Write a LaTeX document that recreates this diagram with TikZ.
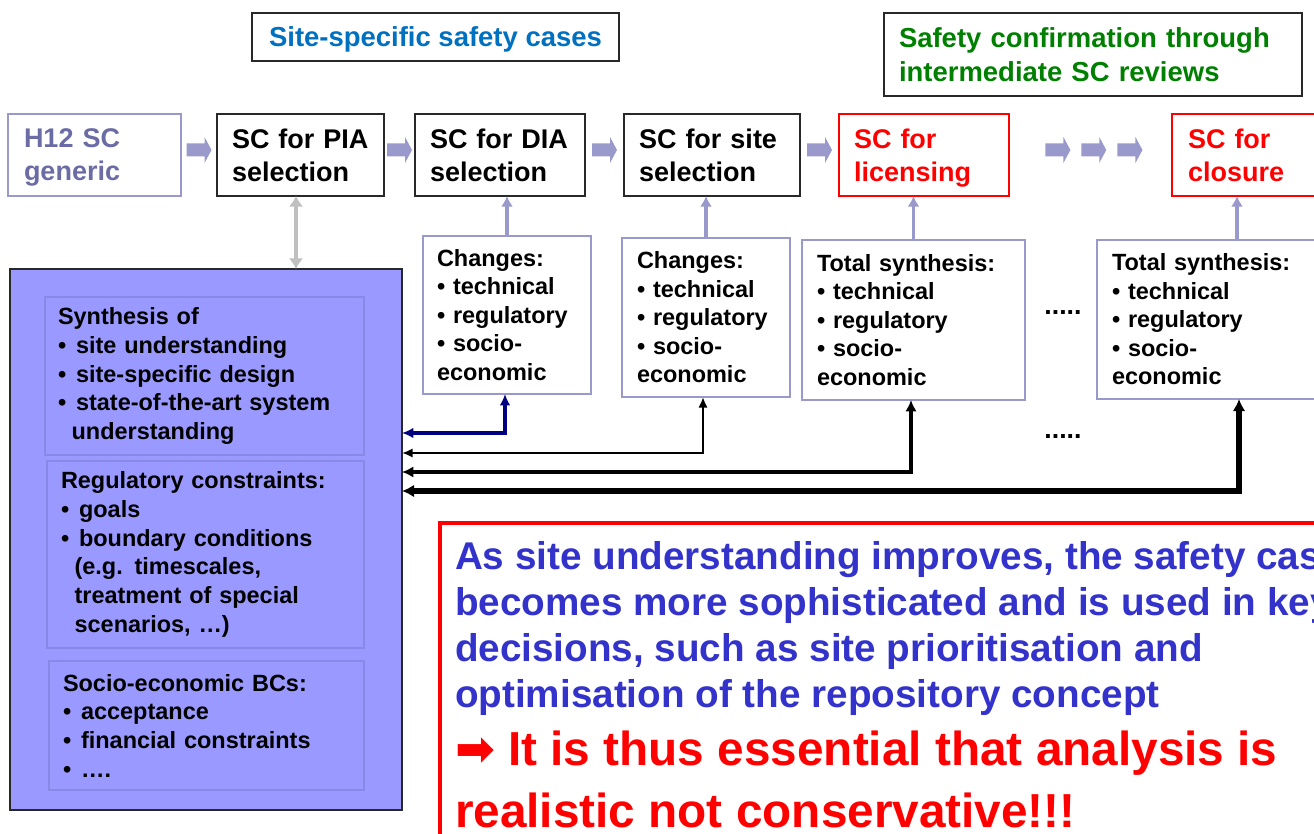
\documentclass[tikz,border=0pt]{standalone}
\usepackage{fontspec}
\setmainfont{Liberation Sans}
\newfontfamily\symfont{DejaVu Sans}
\usetikzlibrary{arrows.meta,calc}

\definecolor{lav}{RGB}{153,153,204}
\definecolor{lavtext}{RGB}{107,107,166}
\definecolor{panel}{RGB}{153,153,255}
\definecolor{panelline}{RGB}{136,136,230}
\definecolor{titleblue}{RGB}{0,112,192}
\definecolor{titlegreen}{RGB}{0,128,0}
\definecolor{noteblue}{RGB}{51,51,204}
\definecolor{navy}{RGB}{0,0,128}
\definecolor{sidegray}{RGB}{192,192,192}
\definecolor{darkframe}{RGB}{40,40,40}

% font sizes (pt)
\newcommand\fsrow{\fontsize{20.25}{24.75}\selectfont\bfseries}
\newcommand\fslist{\fontsize{17.6}{21.4}\selectfont\bfseries}
\newcommand\fspanel{\fontsize{17.6}{21.5}\selectfont\bfseries}
\newcommand\fstitle{\fontsize{20.6}{25.5}\selectfont\bfseries}
\newcommand\pitem{\makebox[0.77em][l]{\textbullet}}
\newcommand\pcont{\hspace*{0.58em}}
% natural word spaces of the current font
\newcommand\freespaces{\spaceskip=0pt\xspaceskip=0pt\relax}

% box given by its corners in pixel coordinates, with a left padding
% #1 name, #2 x1, #3 y1, #4 x2, #5 y2, #6 padding, #7 style, #8 text
\newcommand\pxbox[8]{%
  \pgfmathsetmacro\bxw{(#4-#2-2*#6)*0.75}%
  \pgfmathsetmacro\bxh{(#5-#3)*0.75}%
  \pgfmathsetmacro\bxp{#6*0.75}%
  \node[#7, anchor=north west, outer sep=0pt, inner xsep=\bxp pt, inner ysep=0pt,
        text width=\bxw pt, minimum height=\bxh pt, align=left] (#1) at (#2,#3) {#8};}

% broad flow arrow centred on a point
\newcommand\flowarrow[1]{%
  \fill[lav] (#1) ++(-12.5,-6.5) -- ++(18,0) -- ++(0,-6.5) -- ++(7,13)
    -- ++(-7,13) -- ++(0,-6.5) -- ++(-18,0) -- cycle;}

\begin{document}
\begin{tikzpicture}[x=0.75pt,y=-0.75pt,
  stagebox/.style={draw=darkframe, line width=1.1pt, font=\fsrow},
  genbox/.style={draw=lav, line width=1.1pt, font=\fsrow, text=lavtext},
  redbox/.style={draw=red, line width=1.1pt, font=\fsrow, text=red},
  listbox/.style={draw=lav, line width=1.1pt, fill=white, font=\fslist},
  panelbox/.style={draw=panelline, line width=0.8pt, font=\fspanel},
  uparrow/.style={draw=lav, line width=2.6pt, -{Latex[length=8pt,width=9pt]}},
  sidearrow/.style={draw=sidegray, line width=3.6pt, {Latex[length=8pt,width=11pt]}-{Latex[length=8pt,width=11pt]}},
  fbnavy/.style={draw=navy, line width=2.8pt, {Latex[length=8.5pt,width=8pt]}-{Latex[length=8.5pt,width=8pt]}},
  fbthin/.style={draw=black, line width=2pt, {Latex[length=8pt,width=7pt]}-{Latex[length=8pt,width=7pt]}},
  fbmid/.style={draw=black, line width=3pt, {Latex[length=8.5pt,width=8.5pt]}-{Latex[length=8.5pt,width=8.5pt]}},
  fbthick/.style={draw=black, line width=4.2pt, {Latex[length=9pt,width=9.5pt]}-{Latex[length=9pt,width=9.5pt]}},
  dotrow/.style={font=\fontsize{20}{24}\selectfont\bfseries, anchor=base, inner sep=0pt}
]
\useasboundingbox (0,0) rectangle (1314,834);
\clip (0,0) rectangle (1314,834);
\fill[white] (0,0) rectangle (1314,834);

% headings
\node[draw=darkframe, line width=1.1pt, font=\fstitle, text=titleblue, anchor=north west,
      outer sep=0pt, minimum width={367*0.75pt}, minimum height={48*0.75pt}, text depth=0pt]
      (title1) at (252,13) {Site-specific safety cases};
\pxbox{title2}{884}{13}{1302}{96}{15}{draw=darkframe, line width=1.1pt, font=\fstitle, text=titlegreen}
  {Safety confirmation through\\\smash{intermediate SC reviews}}

% sequence of safety cases
\pxbox{h12}{8}{114}{181}{196}{16}{genbox}{H12 SC\\\smash{generic}}
\pxbox{pia}{217}{114}{384}{196}{15}{stagebox}{SC for PIA\\\smash{selection}}
\pxbox{dia}{415}{114}{585}{196}{15}{stagebox}{SC for DIA\\\smash{selection}}
\pxbox{site}{624}{114}{800}{196}{15}{stagebox}{SC for site\\\smash{selection}}
\pxbox{lic}{839}{114}{1009}{196}{15}{redbox}{SC for\\\smash{licensing}}
\pxbox{clo}{1172}{114}{1380}{196}{16}{redbox}{SC for\\\smash{closure}}

\flowarrow{$(h12.east)!0.5!(pia.west)+(0,-5)$}
\flowarrow{$(pia.east)!0.5!(dia.west)+(0,-5)$}
\flowarrow{$(dia.east)!0.5!(site.west)+(0,-5)$}
\flowarrow{$(site.east)!0.5!(lic.west)+(0,-5)$}
\flowarrow{$(lic.east)!0.30!(clo.west)+(0,-5)$}
\flowarrow{$(lic.east)!0.52!(clo.west)+(0,-5)$}
\flowarrow{$(lic.east)!0.742!(clo.west)+(0,-5)$}

% inputs to each safety case
\pxbox{ch1}{423}{236}{591}{394}{14}{listbox}
  {Changes:\\\textbullet{} technical\\\textbullet{} regulatory\\\textbullet{} socio-\\economic}
\pxbox{ch2}{622}{238}{790}{397}{15}{listbox}
  {Changes:\\\textbullet{} technical\\\textbullet{} regulatory\\\textbullet{} socio-\\economic}
\pxbox{ts1}{802}{240}{1025}{400}{15}{listbox}
  {Total synthesis:\\\textbullet{} technical\\\textbullet{} regulatory\\\textbullet{} socio-\\economic}
\pxbox{ts2}{1097}{240}{1377}{399}{15}{listbox}
  {Total synthesis:\\\textbullet{} technical\\\textbullet{} regulatory\\\textbullet{} socio-\\economic}

\draw[uparrow] (ch1.north) -- (ch1.north |- dia.south);
\draw[uparrow] (ch2.north) -- (ch2.north |- site.south);
\draw[uparrow] (ts1.north) -- (ts1.north |- lic.south);
\draw[uparrow] (ts2.north) -- (ts2.north |- clo.south);

\node[dotrow] (dotsA) at (1063,315) {.....};
\node[dotrow] (dotsB) at (1063,438) {.....};

% knowledge base panel
\node[draw=darkframe, fill=panel, line width=1.1pt, anchor=north west, outer sep=0pt,
      minimum width={392*0.75pt}, minimum height={541*0.75pt}] (big) at (10,269) {};
\pxbox{syn}{45}{297}{364}{455}{13}{panelbox}
  {Synthesis of\\\pitem site understanding\\\pitem site-specific design\\
   \pitem state-of-the-art system\\\pcont understanding}
\pxbox{reg}{47}{461}{364}{648}{14}{panelbox}
  {Regulatory constraints:\\\pitem goals\\\pitem boundary conditions\\
   \pcont(e.g. timescales,\\\pcont treatment of special\\\pcont scenarios, …)}
\pxbox{soc}{49}{661}{364}{790}{14}{panelbox}
  {Socio-economic BCs:\\\pitem acceptance\\\pitem financial constraints\\\pitem ….}

\coordinate (g) at (296,0);
\draw[sidearrow] (pia.south -| g) -- (big.north -| g);

% feedback from each stage into the panel
\coordinate (f1) at (505,433);
\coordinate (f2) at (703,453);
\coordinate (f3) at (911,472);
\coordinate (f4) at (1239,491);
\draw[fbnavy] (ch1.south -| f1) |- (big.east |- f1);
\draw[fbthin] (ch2.south -| f2) |- (big.east |- f2);
\draw[fbmid] (ts1.south -| f3) |- (big.east |- f3);
\draw[fbthick] (ts2.south -| f4) |- (big.east |- f4);

% conclusion
\node[draw=red, line width=3pt, anchor=north west, outer sep=0pt, inner xsep=11.25pt,
      inner ysep=14pt, text width=750pt, align=left,
      font=\fontsize{29}{34.5}\selectfont\bfseries] (note) at (440,523)
  {{\freespaces\color{noteblue}%
    As site understanding improves, the safety case\\
    becomes more sophisticated and is used in key\\
    decisions, such as site prioritisation and\\
    optimisation of the repository concept\par}%
   {\fontsize{35.8}{43.5}\selectfont\bfseries\freespaces\color{red}%
    {\symfont\bfseries ➡}\ It is thus essential that analysis is\\[3pt]
    realistic not conservative!!!\par}};
\end{tikzpicture}
\end{document}
